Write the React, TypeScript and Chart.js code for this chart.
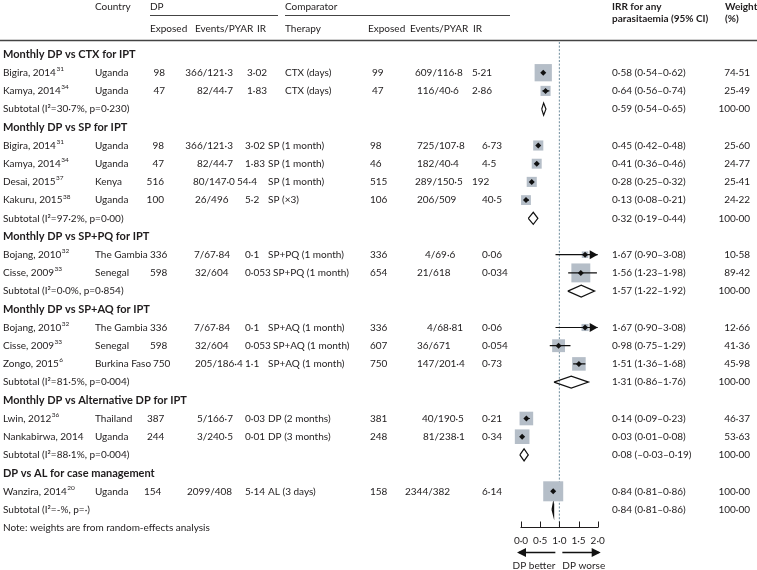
import React, { useEffect, useRef } from "react";
import { Chart, registerables } from "chart.js";
Chart.register(...registerables);

// ---------------- DATA ----------------
const groupTitles = [
  "Monthly DP vs CTX for IPT",
  "Monthly DP vs SP for IPT",
  "Monthly DP vs SP+PQ for IPT",
  "Monthly DP vs SP+AQ for IPT",
  "Monthly DP vs Alternative DP for IPT",
  "DP vs AL for case management",
];
const groupSizes = [2, 4, 2, 3, 2, 1];

const studyNames = [
  "Bigira, 2014", "Kamya, 2014",
  "Bigira, 2014", "Kamya, 2014", "Desai, 2015", "Kakuru, 2015",
  "Bojang, 2010", "Cisse, 2009",
  "Bojang, 2010", "Cisse, 2009", "Zongo, 2015",
  "Lwin, 2012", "Nankabirwa, 2014",
  "Wanzira, 2014",
];
const studyRefs = ["31", "34", "31", "34", "37", "38", "32", "33", "32", "33", "6", "36", "", "20"];
const countries = [
  "Uganda", "Uganda", "Uganda", "Uganda", "Kenya", "Uganda",
  "The Gambia", "Senegal", "The Gambia", "Senegal", "Burkina Faso",
  "Thailand", "Uganda", "Uganda",
];
const dpExposed = ["98", "47", "98", "47", "516", "100", "336", "598", "336", "598", "750", "387", "244", "154"];
const dpEvents = ["366/121·3", "82/44·7", "366/121·3", "82/44·7", "80/147·0", "26/496", "7/67·84", "32/604", "7/67·84", "32/604", "205/186·4", "5/166·7", "3/240·5", "2099/408"];
const dpIR = ["3·02", "1·83", "3·02", "1·83", "54·4", "5·2", "0·1", "0·053", "0·1", "0·053", "1·1", "0·03", "0·01", "5·14"];
const compTherapy = [
  "CTX (days)", "CTX (days)",
  "SP (1 month)", "SP (1 month)", "SP (1 month)", "SP (×3)",
  "SP+PQ (1 month)", "SP+PQ (1 month)",
  "SP+AQ (1 month)", "SP+AQ (1 month)", "SP+AQ (1 month)",
  "DP (2 months)", "DP (3 months)",
  "AL (3 days)",
];
const compExposed = ["99", "47", "98", "46", "515", "106", "336", "654", "336", "607", "750", "381", "248", "158"];
const compEvents = ["609/116·8", "116/40·6", "725/107·8", "182/40·4", "289/150·5", "206/509", "4/69·6", "21/618", "4/68·81", "36/671", "147/201·4", "40/190·5", "81/238·1", "2344/382"];
const compIR = ["5·21", "2·86", "6·73", "4·5", "192", "40·5", "0·06", "0·034", "0·06", "0·054", "0·73", "0·21", "0·34", "6·14"];

const irr = [0.58, 0.64, 0.45, 0.41, 0.28, 0.13, 1.67, 1.56, 1.67, 0.98, 1.51, 0.14, 0.03, 0.84];
const irrLow = [0.54, 0.56, 0.42, 0.36, 0.25, 0.08, 0.90, 1.23, 0.90, 0.75, 1.36, 0.09, 0.01, 0.81];
const irrHigh = [0.62, 0.74, 0.48, 0.46, 0.32, 0.21, 3.08, 1.98, 3.08, 1.29, 1.68, 0.23, 0.08, 0.86];
const weights = [74.51, 25.49, 25.60, 24.77, 25.41, 24.22, 10.58, 89.42, 12.66, 41.36, 45.98, 46.37, 53.63, 100.0];

const subLabels = [
  "Subtotal (I²=30·7%, p=0·230)",
  "Subtotal (I²=97·2%, p=0·00)",
  "Subtotal (I²=0·0%, p=0·854)",
  "Subtotal (I²=81·5%, p=0·004)",
  "Subtotal (I²=88·1%, p=0·004)",
  "Subtotal (I²=-%, p=·)",
];
const subIrr = [0.59, 0.32, 1.57, 1.31, 0.08, 0.84];
const subLow = [0.54, 0.19, 1.22, 0.86, -0.03, 0.81];
const subHigh = [0.65, 0.44, 1.92, 1.76, 0.19, 0.86];
const subWeight = [100, 100, 100, 100, 100, 100];

const noteText = "Note: weights are from random-effects analysis";
const axisTicks = [0, 0.5, 1, 1.5, 2];
const axisTickLabels = ["0·0", "0·5", "1·0", "1·5", "2·0"];

// ---------------- LAYOUT ----------------
const W = 757, H = 570;
const ROW0 = 54.5, ROWH = 18.2;
const PLOT_L = 521, PLOT_R = 597.7, PLOT_T = 42, PLOT_B = 527;
const X_MIN = 0, X_MAX = 2;
const Y_MIN = (PLOT_T - ROW0) / ROWH;
const Y_MAX = (PLOT_B - ROW0) / ROWH;
const FONT = "Lato, 'DejaVu Sans', sans-serif";
const TXT = "#1f1c1d";
const BOX = "#b5bec8";

type P = [number, "left" | "right"];
// per-row column anchors: dpExposed, dpEvents, dpIR, therapy, compExposed, compEvents, compIR
const colLayout: P[][] = [
  [[165, "right"], [233, "right"], [247, "left"], [285, "left"], [372, "left"], [415, "left"], [472, "left"]],
  [[165, "right"], [233, "right"], [247, "left"], [285, "left"], [372, "left"], [417, "left"], [472, "left"]],
  [[164, "right"], [233, "right"], [245, "left"], [268, "left"], [370, "left"], [417, "left"], [482, "left"]],
  [[164, "right"], [233, "right"], [245, "left"], [268, "left"], [370, "left"], [417, "left"], [482, "left"]],
  [[164, "right"], [193, "left"], [237, "left"], [268, "left"], [370, "left"], [415, "left"], [472, "left"]],
  [[164, "right"], [195, "left"], [245, "left"], [268, "left"], [370, "left"], [417, "left"], [482, "left"]],
  [[150, "left"], [230, "right"], [245, "left"], [268, "left"], [370, "left"], [425, "left"], [482, "left"]],
  [[150, "left"], [195, "left"], [245, "left"], [273, "left"], [370, "left"], [417, "left"], [482, "left"]],
  [[150, "left"], [230, "right"], [245, "left"], [268, "left"], [370, "left"], [427, "left"], [482, "left"]],
  [[150, "left"], [195, "left"], [245, "left"], [273, "left"], [370, "left"], [417, "left"], [482, "left"]],
  [[153, "left"], [195, "left"], [245, "left"], [268, "left"], [370, "left"], [417, "left"], [482, "left"]],
  [[147, "left"], [233, "right"], [245, "left"], [268, "left"], [370, "left"], [422, "left"], [482, "left"]],
  [[147, "left"], [233, "right"], [245, "left"], [268, "left"], [370, "left"], [423, "left"], [482, "left"]],
  [[144, "left"], [187, "left"], [245, "left"], [268, "left"], [370, "left"], [405, "left"], [482, "left"]],
];

function fmt(v: number) {
  const s = Math.abs(v).toFixed(2).replace(".", "·");
  return v < 0 ? "–" + s : s;
}

// row indices
const titleRows: number[] = [];
const studyRows: number[] = [];
const subRows: number[] = [];
(() => {
  let r = 0;
  groupSizes.forEach((n) => {
    titleRows.push(r++);
    for (let i = 0; i < n; i++) studyRows.push(r++);
    subRows.push(r++);
  });
})();
const noteRow = subRows[subRows.length - 1] + 1;

const DIAMOND_HALF = 6 / ROWH;

const textPlugin = {
  id: "forestText",
  afterDatasetsDraw(chart: any) {
    const ctx = chart.ctx;
    const xs = chart.scales.x;
    const ys = chart.scales.y;
    ctx.save();
    ctx.fillStyle = "#111";
    studyRows.forEach((r, i) => {
      if (irrHigh[i] > X_MAX) {
        const tip = xs.getPixelForValue(X_MAX);
        const y = ys.getPixelForValue(r);
        ctx.beginPath();
        ctx.moveTo(tip, y);
        ctx.lineTo(tip - 8, y - 4.5);
        ctx.lineTo(tip - 8, y + 4.5);
        ctx.closePath();
        ctx.fill();
      }
    });
    ctx.restore();
  },
  afterDraw(chart: any) {
    const ctx = chart.ctx;
    const xs = chart.scales.x;
    const ys = chart.scales.y;
    ctx.save();
    ctx.fillStyle = TXT;
    ctx.textBaseline = "middle";
    const reg = `10px ${FONT}`;
    const bold = `bold 10px ${FONT}`;
    const title = `bold 11px ${FONT}`;
    const put = (t: string, x: number, y: number, align: "left" | "right" | "center" = "left", font = reg) => {
      ctx.font = font;
      ctx.textAlign = align;
      ctx.fillText(t, x, y);
    };
    // headers
    put("Country", 95, 7);
    put("DP", 150, 7);
    put("Comparator", 285, 7);
    put("IRR for any", 612, 6.5, "left", bold);
    put("parasitaemia (95% CI)", 612, 18.5, "left", bold);
    put("Weight", 725, 6.5, "left", bold);
    put("(%)", 725, 18.5, "left", bold);
    put("Exposed", 150, 29);
    put("Events/PYAR", 195, 29);
    put("IR", 257, 29);
    put("Therapy", 285, 29);
    put("Exposed", 368, 29);
    put("Events/PYAR", 410, 29);
    put("IR", 473, 29);
    ctx.strokeStyle = "#444";
    ctx.lineWidth = 1;
    ctx.beginPath();
    ctx.moveTo(150, 15.5); ctx.lineTo(278, 15.5);
    ctx.moveTo(285, 15.5); ctx.lineTo(510, 15.5);
    ctx.stroke();
    ctx.lineWidth = 1.3;
    ctx.beginPath();
    ctx.moveTo(0, 40.5); ctx.lineTo(W, 40.5);
    ctx.stroke();

    // group titles
    titleRows.forEach((r, g) => put(groupTitles[g], 3, ys.getPixelForValue(r), "left", title));
    // studies
    studyRows.forEach((r, i) => {
      const y = ys.getPixelForValue(r);
      put(studyNames[i], 3, y);
      if (studyRefs[i]) {
        ctx.font = reg;
        const w = ctx.measureText(studyNames[i]).width;
        put(studyRefs[i], 3 + w + 0.5, y - 3.5, "left", `6.5px ${FONT}`);
      }
      put(countries[i], 95, y);
      const L = colLayout[i];
      const vals = [dpExposed[i], dpEvents[i], dpIR[i], compTherapy[i], compExposed[i], compEvents[i], compIR[i]];
      vals.forEach((v, k) => put(v, L[k][0], y, L[k][1]));
      put(`${fmt(irr[i])} (${fmt(irrLow[i])}–${fmt(irrHigh[i])})`, 612, y);
      put(weights[i].toFixed(2).replace(".", "·"), 750, y, "right");
    });
    // subtotals
    subRows.forEach((r, g) => {
      const y = ys.getPixelForValue(r);
      put(subLabels[g], 3, y);
      put(`${fmt(subIrr[g])} (${fmt(subLow[g])}–${fmt(subHigh[g])})`, 612, y);
      put(subWeight[g].toFixed(2).replace(".", "·"), 750, y, "right");
    });
    put(noteText, 3, ys.getPixelForValue(noteRow));

    // x axis (ticks upward)
    const yb = chart.chartArea.bottom;
    ctx.strokeStyle = TXT;
    ctx.lineWidth = 1;
    ctx.beginPath();
    ctx.moveTo(xs.getPixelForValue(X_MIN) - 0.5, yb + 0.5);
    ctx.lineTo(xs.getPixelForValue(X_MAX) + 0.5, yb + 0.5);
    axisTicks.forEach((t) => {
      const x = Math.round(xs.getPixelForValue(t)) + 0.5;
      ctx.moveTo(x, yb + 0.5);
      ctx.lineTo(x, yb - 5.5);
    });
    ctx.stroke();
    axisTicks.forEach((t, k) => put(axisTickLabels[k], xs.getPixelForValue(t), yb + 14, "center"));

    // direction arrows
    const x0 = xs.getPixelForValue(0), x1 = xs.getPixelForValue(1), x2 = xs.getPixelForValue(2);
    const ya = yb + 25.5;
    ctx.strokeStyle = "#111";
    ctx.fillStyle = "#111";
    ctx.lineWidth = 1.5;
    ctx.beginPath();
    ctx.moveTo(x1 - 4, ya); ctx.lineTo(x0 - 2, ya);
    ctx.moveTo(x1 + 3, ya); ctx.lineTo(x2 + 1, ya);
    ctx.stroke();
    ctx.beginPath();
    ctx.moveTo(x0 - 4, ya); ctx.lineTo(x0 + 5, ya - 4.5); ctx.lineTo(x0 + 5, ya + 4.5); ctx.closePath();
    ctx.moveTo(x2 + 3, ya); ctx.lineTo(x2 - 6, ya - 4.5); ctx.lineTo(x2 - 6, ya + 4.5); ctx.closePath();
    ctx.fill();
    ctx.fillStyle = TXT;
    put("DP better", x1 - 4, yb + 39, "right");
    put("DP worse", x1 + 3, yb + 39, "left");
    ctx.restore();
  },
};

export default function App() {
  const ref = useRef<HTMLCanvasElement | null>(null);
  useEffect(() => {
    if (!ref.current) return;
    const ciData: any[] = [];
    studyRows.forEach((r, i) => {
      ciData.push({ x: irrLow[i], y: r }, { x: Math.min(irrHigh[i], X_MAX), y: r }, { x: NaN, y: NaN });
    });
    const diaData: any[] = [];
    subRows.forEach((r, g) => {
      diaData.push(
        { x: subLow[g], y: r },
        { x: subIrr[g], y: r - DIAMOND_HALF },
        { x: subHigh[g], y: r },
        { x: subIrr[g], y: r + DIAMOND_HALF },
        { x: subLow[g], y: r },
        { x: NaN, y: NaN }
      );
    });
    const chart = new Chart(ref.current, {
      type: "scatter",
      data: {
        datasets: [
          {
            label: "point",
            data: studyRows.map((r, i) => ({ x: irr[i], y: r })),
            pointStyle: "rectRot",
            pointRadius: 3,
            backgroundColor: "#111",
            borderWidth: 0,
            clip: false,
          } as any,
          {
            label: "ci",
            data: ciData,
            showLine: true,
            spanGaps: false,
            borderColor: "#111",
            borderWidth: 1.2,
            pointRadius: 0,
            clip: false,
          },
          {
            label: "box",
            data: studyRows.map((r, i) => ({ x: irr[i], y: r })),
            pointStyle: "rect",
            pointRadius: weights.map((w) => (2 * Math.sqrt(w)) / Math.SQRT2),
            backgroundColor: BOX,
            borderWidth: 0,
            clip: false,
          },
          {
            label: "subtotal",
            data: diaData,
            showLine: true,
            spanGaps: false,
            borderColor: "#111",
            borderWidth: 1.2,
            pointRadius: 0,
            clip: false,
          },
          {
            label: "null",
            data: [{ x: 1, y: Y_MIN }, { x: 1, y: Y_MAX }],
            showLine: true,
            borderColor: "#6e8c9c",
            borderWidth: 1,
            borderDash: [2, 1.6],
            pointRadius: 0,
          },
        ],
      },
      options: {
        responsive: false,
        animation: false,
        devicePixelRatio: 1,
        layout: { padding: { left: PLOT_L, right: W - PLOT_R, top: PLOT_T, bottom: H - PLOT_B } },
        plugins: { legend: { display: false }, tooltip: { enabled: false } },
        scales: {
          x: { type: "linear", min: X_MIN, max: X_MAX, display: false },
          y: { type: "linear", min: Y_MIN, max: Y_MAX, reverse: true, display: false },
        },
      },
      plugins: [textPlugin],
    });
    return () => chart.destroy();
  }, []);
  return (
    <div style={{ position: "absolute", left: 0, top: 0, width: W, height: H, background: "#fff" }}>
      <canvas ref={ref} width={W} height={H} style={{ width: W, height: H, display: "block" }} />
    </div>
  );
}
